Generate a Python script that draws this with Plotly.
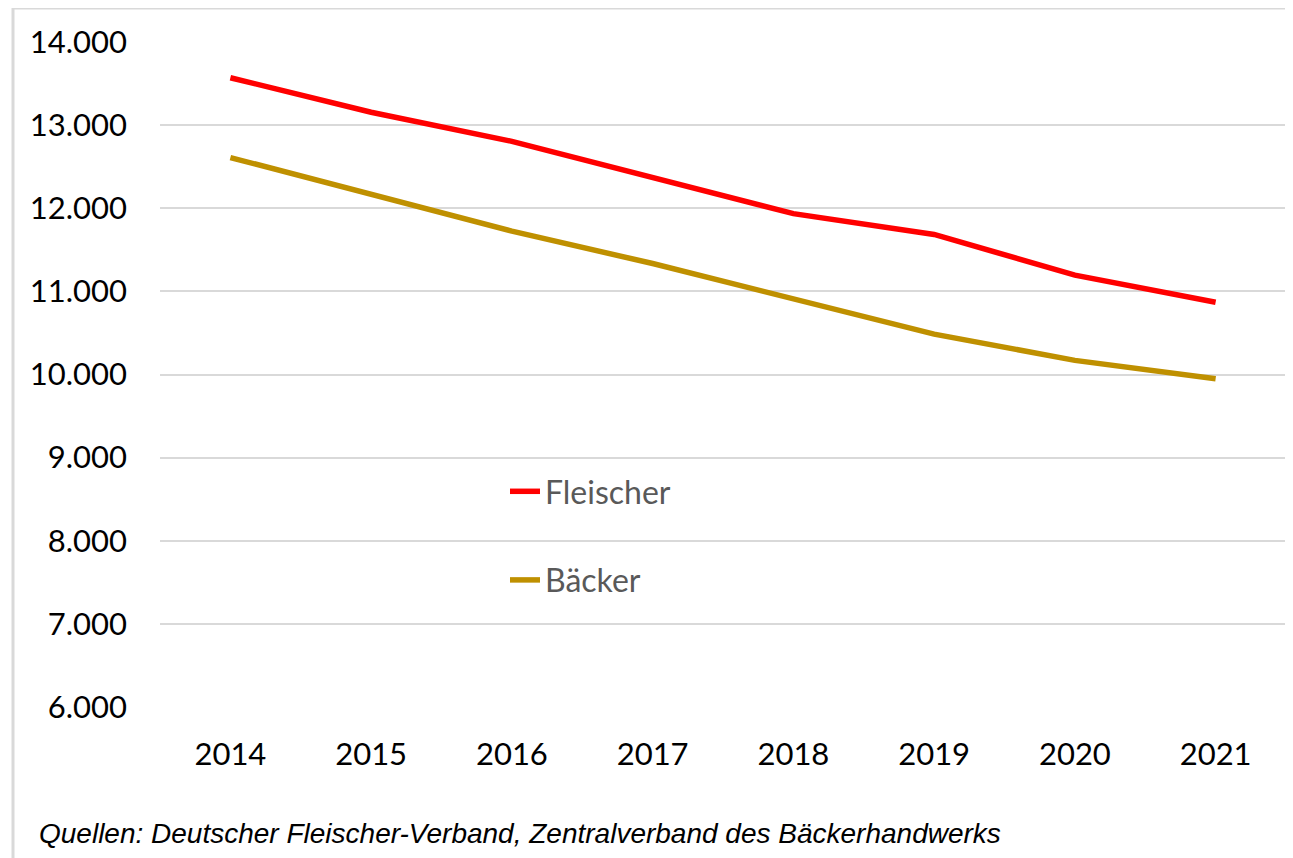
import plotly.graph_objects as go

years = ["2014", "2015", "2016", "2017", "2018", "2019", "2020", "2021"]
fleischer = [13570, 13155, 12805, 12370, 11935, 11685, 11195, 10870]
baecker = [12610, 12170, 11725, 11335, 10910, 10485, 10170, 9950]

FONT = "Lato, 'Noto Sans', sans-serif"

fig = go.Figure()
fig.add_trace(go.Scatter(x=years, y=fleischer, mode="lines", name="Fleischer",
                         legendgroup="a",
                         line=dict(color="#FF0000", width=5.5)))
fig.add_trace(go.Scatter(x=years, y=baecker, mode="lines", name="Bäcker",
                         legendgroup="b",
                         line=dict(color="#BF9000", width=5.5)))

# page body has an 8px margin, so figure coords = screen coords - 8
OFF = 8
W, H = 1293, 858
L, T = 160 - OFF, 42 - OFF
pw = 1286 - 160
ph = 707 - 42
R = W - L - pw
B = H - T - ph


def px_x(sx):
    return (sx - OFF - L) / pw


def px_y(sy):
    return (T + ph - (sy - OFF)) / ph


# outer frame (top and left border)
fig.add_shape(type="line", xref="paper", yref="paper", x0=px_x(13), x1=1.2,
              y0=px_y(8), y1=px_y(8),
              line=dict(color="#D9D9D9", width=3))
fig.add_shape(type="line", xref="paper", yref="paper", x0=px_x(13), x1=px_x(13),
              y0=px_y(8), y1=-0.5,
              line=dict(color="#D9D9D9", width=3))

fig.add_annotation(xref="paper", yref="paper", x=px_x(37), y=px_y(833),
                   xanchor="left", yanchor="middle", showarrow=False,
                   text="<i>Quellen: Deutscher Fleischer-Verband, Zentralverband des Bäckerhandwerks</i>",
                   font=dict(family="'Liberation Sans', Arial, sans-serif", size=28, color="#000000"))

fig.update_layout(
    width=W, height=H,
    margin=dict(l=L, r=R, t=T, b=B, autoexpand=False),
    paper_bgcolor="white", plot_bgcolor="white",
    separators=",.",
    font=dict(family=FONT, size=31, color="#000000"),
    showlegend=True,
    legend=dict(x=px_x(505), y=px_y(464), xanchor="left", yanchor="top",
                bgcolor="rgba(0,0,0,0)", traceorder="grouped", tracegroupgap=44,
                font=dict(family=FONT, size=32, color="#595959"),
                itemwidth=30),
    xaxis=dict(range=[-0.5, 7.5], showgrid=False, showline=False, zeroline=False,
               ticks="", ticklabelstandoff=26,
               tickfont=dict(size=31, color="#000000")),
    yaxis=dict(range=[6000, 14000], dtick=1000, tickformat=",d",
               showgrid=True, gridcolor="#D9D9D9", gridwidth=2,
               showline=False, zeroline=False, ticks="",
               ticklabelstandoff=32,
               tickfont=dict(size=31, color="#000000")),
)

fig.write_html("out.html")
